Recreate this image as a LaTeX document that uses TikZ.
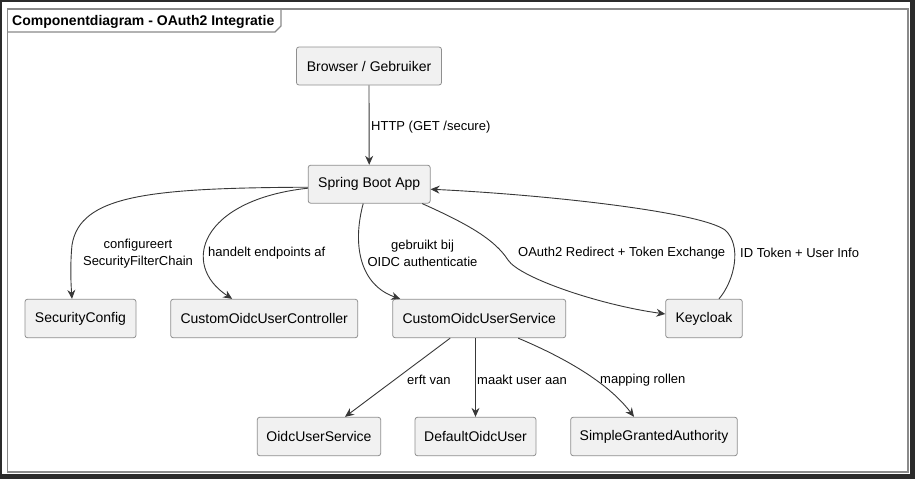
\documentclass[tikz,border=0pt]{standalone}
\usepackage{fontspec}
\setmainfont{Liberation Sans}
\usetikzlibrary{arrows.meta}
\definecolor{darkbg}{HTML}{2B2B2B}
\definecolor{boxfill}{HTML}{F1F1F1}
\definecolor{boxline}{HTML}{8F8F8F}
\definecolor{edgecol}{HTML}{383838}
\definecolor{framecol}{HTML}{8A8A8A}
\tikzset{
  comp/.style={draw=boxline, fill=boxfill, rounded corners=2.5pt, line width=0.8pt,
    inner sep=0pt, minimum height=38.5pt, font=\fontsize{14}{16.8}\selectfont},
  conn/.style={draw=edgecol, line width=0.9pt, -{Stealth[length=9pt,width=8pt,inset=3pt]}},
  lbl/.style={inner sep=0pt, anchor=west, font=\fontsize{13}{17}\selectfont},
  lblc/.style={inner sep=0pt, align=center, font=\fontsize{13}{17}\selectfont}
}
\begin{document}
\begin{tikzpicture}[x=1pt,y=-1pt]
\useasboundingbox (0,0) rectangle (915,479);
\fill[darkbg] (0,0) rectangle (915,479);
\fill[white] (2,2) rectangle (910,474);
% frame
\draw[framecol, line width=1.5pt] (7.5,9) rectangle (908,472);
\draw[framecol, line width=1.2pt] (7.5,32) -- (275,32) -- (281,26) -- (281,9);
\node[inner sep=0pt, anchor=west, font=\bfseries\fontsize{14}{16.8}\selectfont] (title) at (12,21.5) {Componentdiagram - OAuth2 Integratie};

% nodes
\node[comp, minimum width=145pt, minimum height=38pt] (browser) at (369,66) {Browser / Gebruiker};
\node[comp, minimum width=122pt, minimum height=38pt] (spring) at (369.2,184.2) {Spring Boot App};
\node[comp, minimum width=111pt] (seccfg) at (80.5,318.5) {SecurityConfig};
\node[comp, minimum width=187pt] (ctrl) at (264.2,318.5) {CustomOidcUserController};
\node[comp, minimum width=173pt] (svc) at (479.2,318.5) {CustomOidcUserService};
\node[comp, minimum width=76.6pt] (kc) at (704,318.5) {Keycloak};
\node[comp, minimum width=123.4pt] (ous) at (319,436.5) {OidcUserService};
\node[comp, minimum width=121pt] (dou) at (475.5,436.5) {DefaultOidcUser};
\node[comp, minimum width=166.6pt] (sga) at (654,436.5) {SimpleGrantedAuthority};

% edges
\draw[conn] (browser.south) -- (spring.north);
\node[lbl] (l1) at (371,127) {HTTP (GET /secure)};

\draw[conn] ([yshift=-3pt]spring.west) .. controls (150,188) and (80,195) .. (72,245)
  .. controls (70,265) and (71,285) .. ([xshift=-8.5pt]seccfg.north);
\node[lblc] (l2) at (138,253.5) {configureert\\SecurityFilterChain};

\draw[conn] ([yshift=-4pt]spring.west) .. controls (200,200) and (180,265) .. ([xshift=-32pt]ctrl.north);
\node[lbl] (l3) at (208,253) {handelt endpoints af};

\draw[conn] ([xshift=-6pt]spring.south) .. controls (352,245) and (360,285) .. ([xshift=-79pt]svc.north);
\node[lblc] (l4) at (422.5,253.5) {gebruikt bij\\OIDC authenticatie};

\draw[conn] ([xshift=53pt]spring.south) .. controls (470,225) and (495,240) .. (508,260)
  .. controls (520,278) and (600,305) .. ([yshift=4.5pt]kc.west);
\node[lbl] (l5) at (518,253) {OAuth2 Redirect + Token Exchange};

\draw[conn] ([xshift=15pt]kc.north) .. controls (735,280) and (742,245) .. (725,230)
  .. controls (700,212) and (550,195) .. ([yshift=-5pt]spring.east);
\node[lbl] (l6) at (740,253) {ID Token + User Info};

\draw[conn] ([xshift=-29pt]svc.south) -- ([xshift=26pt]ous.north);
\node[lbl] (l7) at (407,380) {erft van};

\draw[conn] (svc.south -| dou.north) -- (dou.north);
\node[lbl] (l8) at (477,380) {maakt user aan};

\draw[conn] ([xshift=39pt]svc.south) .. controls (570,360) and (610,385) .. ([xshift=-20pt]sga.north);
\node[lbl] (l9) at (600,380) {mapping rollen};
\end{tikzpicture}
\end{document}
